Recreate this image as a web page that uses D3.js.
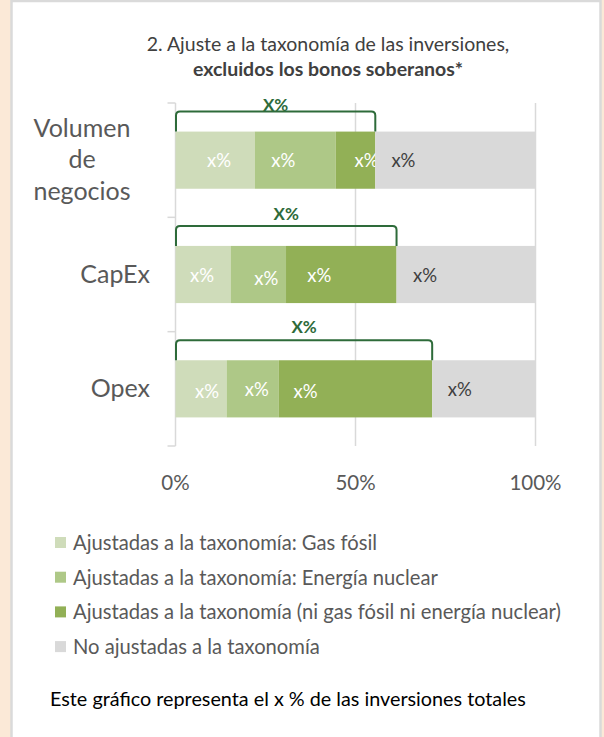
<!DOCTYPE html>
<html>
<head>
<meta charset="utf-8">
<script src="https://cdn.jsdelivr.net/npm/d3@7"></script>
<style>
  body { margin: 0; background: #fbe9d7; }
  svg { display: block; font-family: Lato, "Open Sans", sans-serif; }
</style>
</head>
<body>
<script>
// data (percent of each bar)
const categories = ['Volumen de negocios', 'CapEx', 'Opex'];
const catLines = [['Volumen', 'de', 'negocios'], ['CapEx'], ['Opex']];
const seriesNames = [
  'Ajustadas a la taxonomía: Gas fósil',
  'Ajustadas a la taxonomía: Energía nuclear',
  'Ajustadas a la taxonomía (ni gas fósil ni energía nuclear)',
  'No ajustadas a la taxonomía'
];
const gasFosil = [22, 15.3, 14.2];
const nuclear = [22.5, 15.4, 14.5];
const otras = [11, 30.7, 42.6];
const noAjustadas = [44.5, 38.6, 28.7];
const segLabel = 'x%';
const totalLabel = 'X%';
const xTicks = [0, 50, 100];
const titleLines = ['2. Ajuste a la taxonomía de las inversiones,', 'excluidos los bonos soberanos*'];
const footnote = 'Este gráfico representa el x % de las inversiones totales';

const colors = ['#cfdcba', '#aec887', '#92b056', '#d9d9d9'];
const keys = ['gas', 'nuc', 'otr', 'no'];

const rows = categories.map((c, i) => ({
  cat: c, gas: gasFosil[i], nuc: nuclear[i], otr: otras[i], no: noAjustadas[i]
}));

const W = 604, H = 737;
const svg = d3.select('body').append('svg')
  .attr('width', W)
  .attr('height', H);

// white panel with grey border
svg.append('rect')
  .attr('x', 11.5).attr('y', 1)
  .attr('width', 589).attr('height', H + 10)
  .attr('fill', '#fff')
  .attr('stroke', '#dadada')
  .attr('stroke-width', 2.5);

// title
svg.append('text')
  .attr('x', 328).attr('y', 51)
  .attr('text-anchor', 'middle')
  .attr('font-size', 19.5)
  .attr('fill', '#404040')
  .text(titleLines[0]);
svg.append('text')
  .attr('x', 328).attr('y', 76)
  .attr('text-anchor', 'middle')
  .attr('font-size', 19.5)
  .attr('font-weight', 'bold')
  .attr('fill', '#404040')
  .text(titleLines[1]);

const x = d3.scaleLinear().domain([0, 100]).range([175.5, 535.5]);
const y = d3.scaleBand().domain(categories).range([103, 446]);
const bh = y.bandwidth() * 0.5;

// gridlines
svg.append('g').selectAll('line')
  .data(xTicks.slice(1))
  .join('line')
  .attr('x1', d => x(d)).attr('x2', d => x(d))
  .attr('y1', 103).attr('y2', 446)
  .attr('stroke', '#d9d9d9')
  .attr('stroke-width', 1.5);

// category axis with ticks between categories
svg.append('line')
  .attr('x1', x(0)).attr('x2', x(0))
  .attr('y1', 103).attr('y2', 446)
  .attr('stroke', '#d9d9d9').attr('stroke-width', 1.5);
const bounds = categories.map(c => y(c)).concat([y.range()[1]]);
svg.append('g').selectAll('line')
  .data(bounds)
  .join('line')
  .attr('x1', x(0) - 8).attr('x2', x(0))
  .attr('y1', d => d).attr('y2', d => d)
  .attr('stroke', '#d9d9d9').attr('stroke-width', 1.5);

// bars
const stacked = d3.stack().keys(keys)(rows);
const layers = svg.append('g').selectAll('g')
  .data(stacked)
  .join('g')
  .attr('fill', (d, i) => colors[i]);

layers.selectAll('rect')
  .data(d => d)
  .join('rect')
  .attr('x', d => x(d[0]))
  .attr('y', d => y(d.data.cat) + (y.bandwidth() - bh) / 2)
  .attr('width', d => x(d[1]) - x(d[0]))
  .attr('height', bh);

// segment labels, nudged like the hand-placed ones in the original
const nudge = [
  [[4, 0], [-12, 0], [11, 0], [-52, 0]],
  [[-1, 0], [8, 3], [-22, 0], [-41, 0]],
  [[6, 2], [4, 0], [-50, 2], [-24, 0]]
];
layers.selectAll('text')
  .data((d, si) => d.map((p, ci) => ({ p, si, ci })))
  .join('text')
  .attr('x', d => (x(d.p[0]) + x(d.p[1])) / 2 + nudge[d.ci][d.si][0])
  .attr('y', d => y(d.p.data.cat) + y.bandwidth() / 2 + 7 + nudge[d.ci][d.si][1])
  .attr('text-anchor', 'middle')
  .attr('font-size', 18.5)
  .attr('fill', d => d.si === 3 ? '#404040' : '#fff')
  .text(segLabel);

// brackets over the aligned part
const aligned = stacked[2];
const labelGap = [1, 6, 7];
aligned.forEach((p, i) => {
  const top = y(p.data.cat) + (y.bandwidth() - bh) / 2;
  const hy = top - 20;
  const x0 = x(0) + 0.5, x1 = x(p[1]), r = 4;
  svg.append('path')
    .attr('d', `M${x0},${top} L${x0},${hy + r} Q${x0},${hy} ${x0 + r},${hy} L${x1 - r},${hy} Q${x1},${hy} ${x1},${hy + r} L${x1},${top}`)
    .attr('fill', 'none')
    .attr('stroke', '#2e6b3a')
    .attr('stroke-width', 2);
  svg.append('text')
    .attr('x', (x0 + x1) / 2)
    .attr('y', hy - labelGap[i])
    .attr('text-anchor', 'middle')
    .attr('font-size', 17)
    .attr('font-weight', 'bold')
    .attr('fill', '#2e6b3a')
    .text(totalLabel);
});

// category labels
svg.append('g').selectAll('text')
  .data(categories)
  .join('text')
  .attr('text-anchor', (d, i) => catLines[i].length > 1 ? 'middle' : 'end')
  .attr('font-size', 25)
  .attr('fill', '#595959')
  .each(function (d, i) {
    const lines = catLines[i];
    const cy = y(d) + y.bandwidth() / 2 + 8;
    const n = lines.length;
    d3.select(this).selectAll('tspan')
      .data(lines)
      .join('tspan')
      .attr('x', n > 1 ? 82 : 150)
      .attr('y', (l, j) => cy + (j - (n - 1) / 2) * 31.5)
      .text(l => l);
  });

// x tick labels
svg.append('g').selectAll('text')
  .data(xTicks)
  .join('text')
  .attr('x', d => x(d))
  .attr('y', 490)
  .attr('text-anchor', 'middle')
  .attr('font-size', 20.5)
  .attr('fill', '#595959')
  .text(d => d + '%');

// legend
const leg = svg.append('g').selectAll('g')
  .data(seriesNames)
  .join('g')
  .attr('transform', (d, i) => `translate(55, ${543 + i * 34.7})`);
leg.append('rect')
  .attr('x', 0).attr('y', -6)
  .attr('width', 11).attr('height', 11)
  .attr('fill', (d, i) => colors[i]);
leg.append('text')
  .attr('x', 18).attr('y', 7)
  .attr('font-size', 20.2)
  .attr('fill', '#595959')
  .text(d => d);

// footnote
svg.append('text')
  .attr('x', 50).attr('y', 706)
  .attr('font-size', 19.8)
  .attr('fill', '#000')
  .text(footnote);
</script>
</body>
</html>
